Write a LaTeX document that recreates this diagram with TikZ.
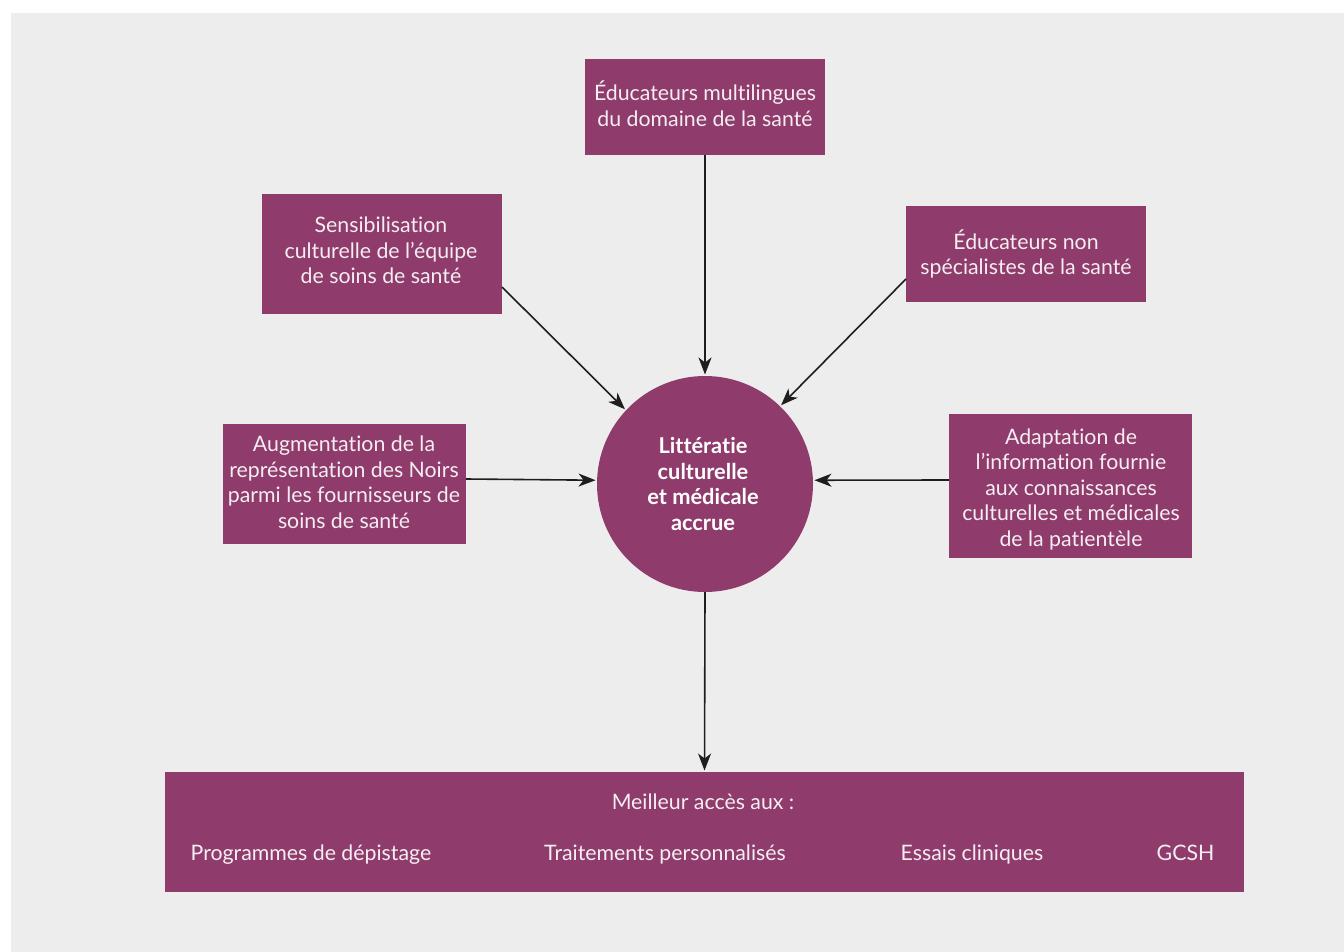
\documentclass[tikz,border=0pt]{standalone}
\usepackage{fontspec}
\setmainfont{Lato}[Ligatures={NoCommon,NoContextual}]
\usetikzlibrary{arrows.meta}
\definecolor{bg}{HTML}{EDEDED}
\definecolor{plum}{HTML}{8F3B6B}
\definecolor{txt}{HTML}{F4EEF2}
\definecolor{arr}{HTML}{1E1E1E}
\tikzset{
  px/.style={x=1pt,y=-1pt},
  box/.style={fill=plum,draw=none,inner sep=0pt,outer sep=0pt},
  boxtext/.style={text=txt,align=center,inner sep=0pt,
    font=\fontsize{21.3}{25.5}\selectfont},
  hub/.style={circle,fill=plum,draw=none,inner sep=0pt,outer sep=0pt,
    minimum size=216pt},
  hubtext/.style={text=white,align=center,inner sep=0pt,
    font=\fontsize{21.8}{25.5}\selectfont\bfseries},
  conn/.style={draw=arr,line width=1.6pt,shorten >=1.5pt,
    -{Stealth[length=17pt,width=13pt,inset=5pt]}},
  lbl/.style={text=txt,inner sep=0pt,font=\fontsize{21.3}{25.5}\selectfont,anchor=base}
}
\begin{document}
\begin{tikzpicture}[px]
\useasboundingbox (0,0) rectangle (1344,952);
\fill[white] (0,0) rectangle (1344,952);
\fill[bg] (11,13) rectangle (1344,952);
% hub
\node[hub] (hub) at (705,484) {};
\node[hubtext] (hubt) at (703,484) {Littératie\\culturelle\\et médicale\\accrue};
% boxes
\node[box,minimum width=240pt,minimum height=96pt] (top) at (705,107) {};
\node[boxtext] (topt) at (705,103.5) {Éducateurs multilingues\\du domaine de la santé};
\node[box,minimum width=240pt,minimum height=120pt] (ul) at (382,254) {};
\node[boxtext] (ult) at (381,250.5) {Sensibilisation\\culturelle de l’équipe\\de soins de santé};
\node[box,minimum width=240pt,minimum height=96pt] (ur) at (1026,254) {};
\node[boxtext] (urt) at (1026,254) {Éducateurs non\\spécialistes de la santé};
\node[box,minimum width=243pt,minimum height=120pt] (lf) at (344.5,484) {};
\node[boxtext] (lft) at (344,482) {Augmentation de la\\représentation des Noirs\\parmi les fournisseurs de\\soins de santé};
\node[box,minimum width=243pt,minimum height=144pt] (rt) at (1070.5,486) {};
\node[boxtext] (rtt) at (1071,489) {Adaptation de\\l’information fournie\\aux connaissances\\culturelles et médicales\\de la patientèle};
\node[box,minimum width=1079pt,minimum height=120pt] (bot) at (704.5,832) {};
\node[lbl] (b0) at (703,809) {Meilleur accès aux :};
\node[lbl] (b1) at (311,860) {Programmes de dépistage};
\node[lbl] (b2) at (665,860) {Traitements personnalisés};
\node[lbl] (b3) at (972,860) {Essais cliniques};
\node[lbl] (b4) at (1185.5,860) {GCSH};
% connectors
\coordinate (ulS) at (502,287);
\coordinate (urS) at (906,279);
\coordinate (lfS) at (466,479);
\coordinate (rtS) at (949,480);
\draw[conn] (top.south) -- (hub.north);
\draw[conn] (ulS) -- (hub.137);
\draw[conn] (urS) -- (hub.46);
\draw[conn] (lfS) -- (hub.178);
\draw[conn] (rtS) -- (hub.2);
\draw[conn] (hub.south) -- (bot.north);
\end{tikzpicture}
\end{document}
